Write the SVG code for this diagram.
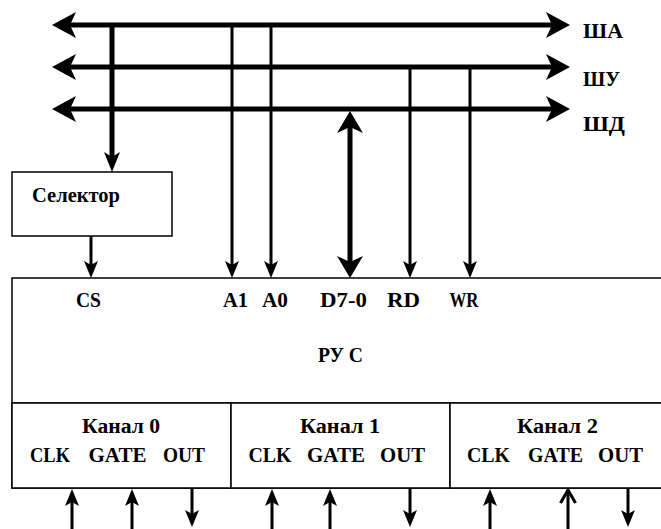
<svg xmlns="http://www.w3.org/2000/svg" width="661" height="529" viewBox="0 0 661 529">
<style>
.box{fill:#fff;stroke:#000;stroke-width:1.5}
.bus{stroke:#000;stroke-width:5;fill:none}
.thick{stroke:#000;stroke-width:5;fill:none}
.thin{stroke:#000;stroke-width:3;fill:none}
text{font-family:'Liberation Serif','DejaVu Serif',Tinos,'Times New Roman',serif;font-weight:bold;font-size:20px;fill:#000}
.c{text-anchor:middle}
</style>
<defs>
<marker id="busA" markerUnits="userSpaceOnUse" viewBox="0 0 24 26" refX="6" refY="13" markerWidth="24" markerHeight="26" orient="auto-start-reverse">
<path d="M0,0 L24,13 L0,26 L6,13 Z" fill="#000"/>
</marker>
<marker id="medA" markerUnits="userSpaceOnUse" viewBox="0 0 20 16" refX="5" refY="8" markerWidth="20" markerHeight="16" orient="auto-start-reverse">
<path d="M0,0 L20,8 L0,16 L5,8 Z" fill="#000"/>
</marker>
<marker id="dA" markerUnits="userSpaceOnUse" viewBox="0 0 22 26" refX="6" refY="13" markerWidth="22" markerHeight="26" orient="auto-start-reverse">
<path d="M0,0 L22,13 L0,26 L6,13 Z" fill="#000"/>
</marker>
<marker id="thinA" markerUnits="userSpaceOnUse" viewBox="0 0 17 14" refX="4" refY="7" markerWidth="17" markerHeight="14" orient="auto-start-reverse">
<path d="M0,0 L17,7 L0,14 L4,7 Z" fill="#000"/>
</marker>
<marker id="openA" markerUnits="userSpaceOnUse" viewBox="0 0 16 18" refX="14" refY="9" markerWidth="16" markerHeight="18" orient="auto">
<path d="M1,1.5 L14,9 L1,16.5" fill="none" stroke="#000" stroke-width="3"/>
</marker>
</defs>

<g id="selector">
<rect class="box" x="12" y="172" width="160" height="64"/>
<text x="32" y="202" textLength="88" lengthAdjust="spacingAndGlyphs">Селектор</text>
</g>

<g id="rus">
<rect class="box" x="12" y="278" width="660" height="210"/>
<line x1="12" y1="403" x2="661" y2="403" stroke="#000" stroke-width="1.5"/>
<text class="c" x="88.5" y="307" textLength="25" lengthAdjust="spacingAndGlyphs">CS</text>
<text class="c" x="235.5" y="307" textLength="25" lengthAdjust="spacingAndGlyphs">A1</text>
<text class="c" x="275" y="307" textLength="26" lengthAdjust="spacingAndGlyphs">A0</text>
<text class="c" x="343.5" y="307" textLength="47" lengthAdjust="spacingAndGlyphs">D7-0</text>
<text class="c" x="403.5" y="307" textLength="33" lengthAdjust="spacingAndGlyphs">RD</text>
<text class="c" x="464" y="307" textLength="29" lengthAdjust="spacingAndGlyphs">WR</text>
<text class="c" x="340.5" y="362" textLength="45" lengthAdjust="spacingAndGlyphs">РУ С</text>
</g>

<g id="channel0">
<rect class="box" x="12" y="403" width="219" height="85"/>
<text class="c" x="121" y="433" textLength="78" lengthAdjust="spacingAndGlyphs">Канал 0</text>
<text class="c" x="50" y="462" textLength="40" lengthAdjust="spacingAndGlyphs">CLK</text>
<text class="c" x="117.5" y="462" textLength="58" lengthAdjust="spacingAndGlyphs">GATE</text>
<text class="c" x="184" y="462" textLength="42" lengthAdjust="spacingAndGlyphs">OUT</text>
</g>

<g id="channel1">
<rect class="box" x="231" y="403" width="219" height="85"/>
<text class="c" x="340" y="433" textLength="80" lengthAdjust="spacingAndGlyphs">Канал 1</text>
<text class="c" x="270" y="462" textLength="43" lengthAdjust="spacingAndGlyphs">CLK</text>
<text class="c" x="336" y="462" textLength="58" lengthAdjust="spacingAndGlyphs">GATE</text>
<text class="c" x="402.5" y="462" textLength="45" lengthAdjust="spacingAndGlyphs">OUT</text>
</g>

<g id="channel2">
<rect class="box" x="450" y="403" width="222" height="85"/>
<text class="c" x="557.5" y="433" textLength="81" lengthAdjust="spacingAndGlyphs">Канал 2</text>
<text class="c" x="488.5" y="462" textLength="43" lengthAdjust="spacingAndGlyphs">CLK</text>
<text class="c" x="555.5" y="462" textLength="55" lengthAdjust="spacingAndGlyphs">GATE</text>
<text class="c" x="620.5" y="462" textLength="45" lengthAdjust="spacingAndGlyphs">OUT</text>
</g>

<g id="bus-labels">
<text x="583" y="38" textLength="40" lengthAdjust="spacingAndGlyphs">ША</text>
<text x="583" y="86" textLength="37" lengthAdjust="spacingAndGlyphs">ШУ</text>
<text x="583" y="131" textLength="42" lengthAdjust="spacingAndGlyphs">ШД</text>
</g>

<g id="connectors">
<line class="bus" x1="70" y1="25" x2="552" y2="25" marker-start="url(#busA)" marker-end="url(#busA)"/>
<line class="bus" x1="70" y1="67" x2="552" y2="67" marker-start="url(#busA)" marker-end="url(#busA)"/>
<line class="bus" x1="70" y1="109" x2="552" y2="109" marker-start="url(#busA)" marker-end="url(#busA)"/>
<line class="thick" x1="112" y1="25" x2="112" y2="157" marker-end="url(#medA)"/>
<line class="thin" x1="91" y1="236" x2="91" y2="265" marker-end="url(#thinA)"/>
<line class="thin" x1="232" y1="25" x2="232" y2="265" marker-end="url(#thinA)"/>
<line class="thin" x1="271" y1="25" x2="271" y2="265" marker-end="url(#thinA)"/>
<line class="thick" x1="350" y1="127" x2="350" y2="262" marker-start="url(#dA)" marker-end="url(#dA)"/>
<line class="thin" x1="410" y1="67" x2="410" y2="265" marker-end="url(#thinA)"/>
<line class="thin" x1="470" y1="67" x2="470" y2="265" marker-end="url(#thinA)"/>
<line class="thin" x1="72" y1="529" x2="72" y2="502" marker-end="url(#thinA)"/>
<line class="thin" x1="132" y1="529" x2="132" y2="502" marker-end="url(#thinA)"/>
<line class="thin" x1="192" y1="489" x2="192" y2="514" marker-end="url(#thinA)"/>
<line class="thin" x1="272" y1="529" x2="272" y2="502" marker-end="url(#thinA)"/>
<line class="thin" x1="330" y1="529" x2="330" y2="502" marker-end="url(#thinA)"/>
<line class="thin" x1="410" y1="489" x2="410" y2="514" marker-end="url(#thinA)"/>
<line class="thin" x1="490" y1="529" x2="490" y2="502" marker-end="url(#thinA)"/>
<line class="thin" x1="568" y1="529" x2="568" y2="490" marker-end="url(#openA)"/>
<line class="thin" x1="628" y1="489" x2="628" y2="514" marker-end="url(#thinA)"/>
</g>
</svg>
